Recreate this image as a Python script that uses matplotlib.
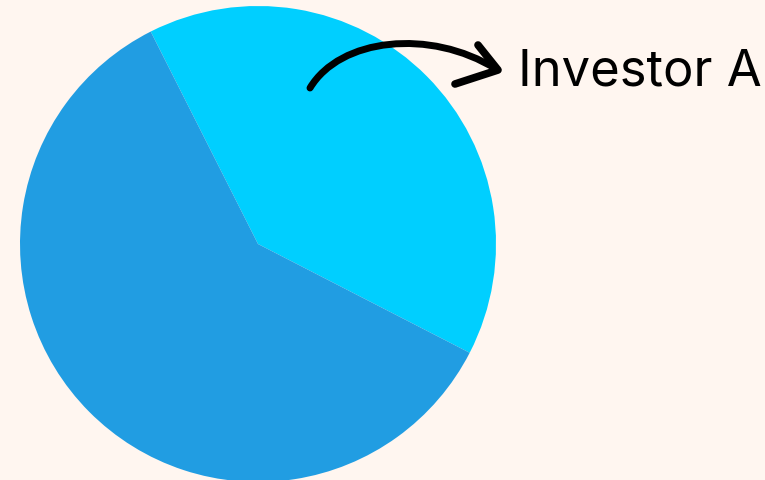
import matplotlib
matplotlib.use("Agg")
import matplotlib.pyplot as plt
from matplotlib.patches import PathPatch
from matplotlib.path import Path

# dados do grafico
labels = ["Investor A", "Others"]
values = [40, 60]
colors = ["#00CFFF", "#219DE2"]

fig = plt.figure(figsize=(7.65, 4.8), dpi=100, facecolor="#FFF6F0")
ax = fig.add_axes([0, 0, 1, 1])
ax.set_facecolor("#FFF6F0")

ax.pie(values, colors=colors, startangle=-27.2, counterclock=True,
       center=(258, 236), radius=238, frame=True,
       wedgeprops=dict(linewidth=0))
ax.set_xlim(0, 765)
ax.set_ylim(0, 480)
ax.set_aspect("equal")
ax.axis("off")

# seta curva desenhada a mao: corpo (bezier) + ponta em forma de ">"
curva = Path([(310, 392), (340, 442), (430, 452), (496, 411)],
             [Path.MOVETO, Path.CURVE4, Path.CURVE4, Path.CURVE4])
ax.add_patch(PathPatch(curva, fill=False, lw=5, edgecolor="black",
                       capstyle="round", joinstyle="round"))
ax.plot([478, 498, 455], [435, 410, 396], color="black", lw=5.5,
        solid_capstyle="round", solid_joinstyle="round")

ax.text(518, 408, labels[0], fontsize=36.5, family="Inter", fontweight="normal",
        color="black", va="center", ha="left")

fig.savefig("out.png", dpi=100, facecolor=fig.get_facecolor())
